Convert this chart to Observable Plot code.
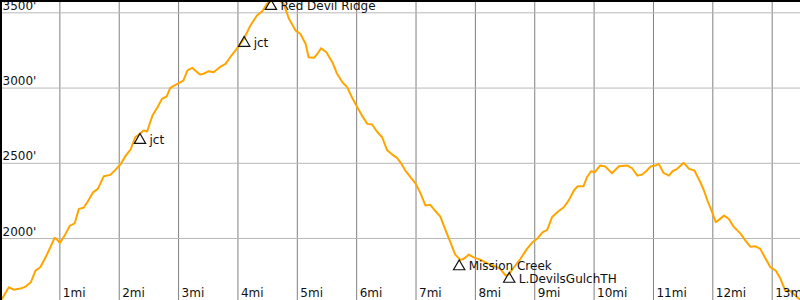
<!DOCTYPE html>
<html>
<head>
<meta charset="utf-8">
<script src="https://cdn.jsdelivr.net/npm/d3@7"></script>
<script src="https://cdn.jsdelivr.net/npm/@observablehq/plot@0.6"></script>
<style>
  html, body { margin: 0; padding: 0; background: #fff; }
  #chart svg { display: block; font-family: "DejaVu Sans", sans-serif; }
</style>
</head>
<body>
<div id="chart"></div>
<script>
// Distance along trail (miles)
const miles = [0.03,0.14,0.22,0.34,0.42,0.51,0.59,0.67,0.76,0.84,0.91,0.94,1.00,1.08,1.17,1.25,1.32,1.40,1.47,1.56,
  1.64,1.74,1.85,1.94,2.02,2.11,2.19,2.27,2.36,2.41,2.47,2.56,2.64,2.72,2.80,2.86,2.98,3.08,3.15,3.23,
  3.28,3.36,3.42,3.51,3.59,3.71,3.79,3.87,3.96,4.10,4.21,4.32,4.41,4.49,4.58,4.67,4.77,4.86,4.97,5.05,
  5.14,5.19,5.28,5.34,5.40,5.49,5.59,5.67,5.76,5.84,5.92,6.01,6.09,6.18,6.26,6.35,6.43,6.51,6.60,6.68,
  6.74,6.82,6.91,6.99,7.08,7.16,7.24,7.33,7.41,7.50,7.58,7.66,7.75,7.80,7.89,7.97,8.09,8.20,8.31,8.42,
  8.51,8.56,8.65,8.76,8.87,8.96,9.04,9.13,9.21,9.29,9.38,9.49,9.57,9.66,9.72,9.82,9.88,9.95,10.01,10.10,
  10.19,10.30,10.42,10.56,10.64,10.73,10.81,10.89,10.95,11.03,11.09,11.17,11.26,11.32,11.40,11.51,11.60,11.69,11.79,11.85,
  11.91,11.99,12.05,12.10,12.19,12.27,12.35,12.47,12.55,12.63,12.72,12.80,12.89,12.97,13.06,13.14,13.22,13.31,13.36,13.48];
// Elevation (feet)
const elevation = [1601,1676,1660,1667,1680,1709,1787,1809,1875,1942,2004,1998,1971,2019,2086,2101,2197,2204,2246,2307,
  2330,2414,2423,2458,2492,2551,2591,2673,2700,2718,2711,2817,2869,2928,2944,3002,3028,3050,3117,3135,
  3117,3090,3095,3112,3105,3143,3161,3205,3250,3327,3416,3482,3511,3560,3585,3590,3560,3460,3383,3361,
  3294,3205,3201,3228,3265,3238,3172,3095,3039,3006,2939,2873,2817,2762,2758,2706,2673,2589,2558,2536,
  2505,2452,2407,2367,2297,2219,2224,2181,2146,2053,1975,1893,1858,1864,1893,1875,1858,1835,1820,1798,
  1754,1760,1809,1865,1931,1975,1998,2041,2057,2141,2174,2208,2252,2319,2347,2347,2407,2447,2440,2485,
  2478,2434,2480,2485,2467,2418,2425,2452,2478,2485,2496,2436,2418,2447,2463,2503,2463,2452,2374,2319,
  2252,2174,2108,2124,2152,2130,2079,2031,1986,1946,1948,1931,1865,1809,1787,1732,1654,1649,1632,1590];

// Waypoints
const wpNames = ["jct", "jct", "Red Devil Ridge", "Mission Creek", "L.DevilsGulchTH"];
const wpMiles = [2.35, 4.105, 4.556, 7.727, 8.57];
const wpElev = [2698, 3343, 3588, 1858, 1775];

// Ticks
const xTicks = [1,2,3,4,5,6,7,8,9,10,11,12,13];
const yTicks = [2000, 2500, 3000, 3500];

const profile = miles.map((m, i) => ({mile: m, elev: elevation[i]}));
const waypoints = wpNames.map((n, i) => ({name: n, mile: wpMiles[i], elev: wpElev[i]}));

const xDomain = [0, 13.477];
const yDomain = [1588, 3582];

const chart = Plot.plot({
  width: 800,
  height: 300,
  margin: 0,
  style: {fontFamily: "DejaVu Sans, sans-serif", fontSize: "12px", background: "#fff"},
  x: {domain: xDomain, axis: null},
  y: {domain: yDomain, axis: null},
  marks: [
    Plot.gridX(xTicks, {stroke: "#808080", strokeOpacity: 1, strokeWidth: 1}),
    Plot.gridY(yTicks, {stroke: "#b8b8b8", strokeOpacity: 1, strokeWidth: 1}),
    Plot.line(profile, {x: "mile", y: "elev", stroke: "#ffa500", strokeWidth: 2, curve: "linear", clip: true}),
    Plot.text(yTicks, {y: d => d, text: d => d + "'", frameAnchor: "left", textAnchor: "start", lineAnchor: "bottom", dx: 2, dy: -3, fill: "#111", fontSize: 12}),
    Plot.text(xTicks, {x: d => d, text: d => d + "mi", frameAnchor: "bottom", textAnchor: "start", lineAnchor: "bottom", dx: 3, dy: -4, fill: "#111", fontSize: 12}),
    Plot.dot(waypoints, {x: "mile", y: "elev", symbol: "triangle", r: 4.2, fill: "none", stroke: "#111", strokeWidth: 1.2, dy: 6.6}),
    Plot.text(waypoints, {x: "mile", y: "elev", text: "name", textAnchor: "start", lineAnchor: "bottom", dx: 9.5, dy: 10.5, fill: "#111", fontSize: 12}),
    Plot.ruleY([yDomain[1]], {stroke: "#000", strokeWidth: 3}),
    Plot.ruleX([xDomain[0]], {stroke: "#000", strokeWidth: 3})
  ]
});
document.getElementById("chart").appendChild(chart);
</script>
</body>
</html>
